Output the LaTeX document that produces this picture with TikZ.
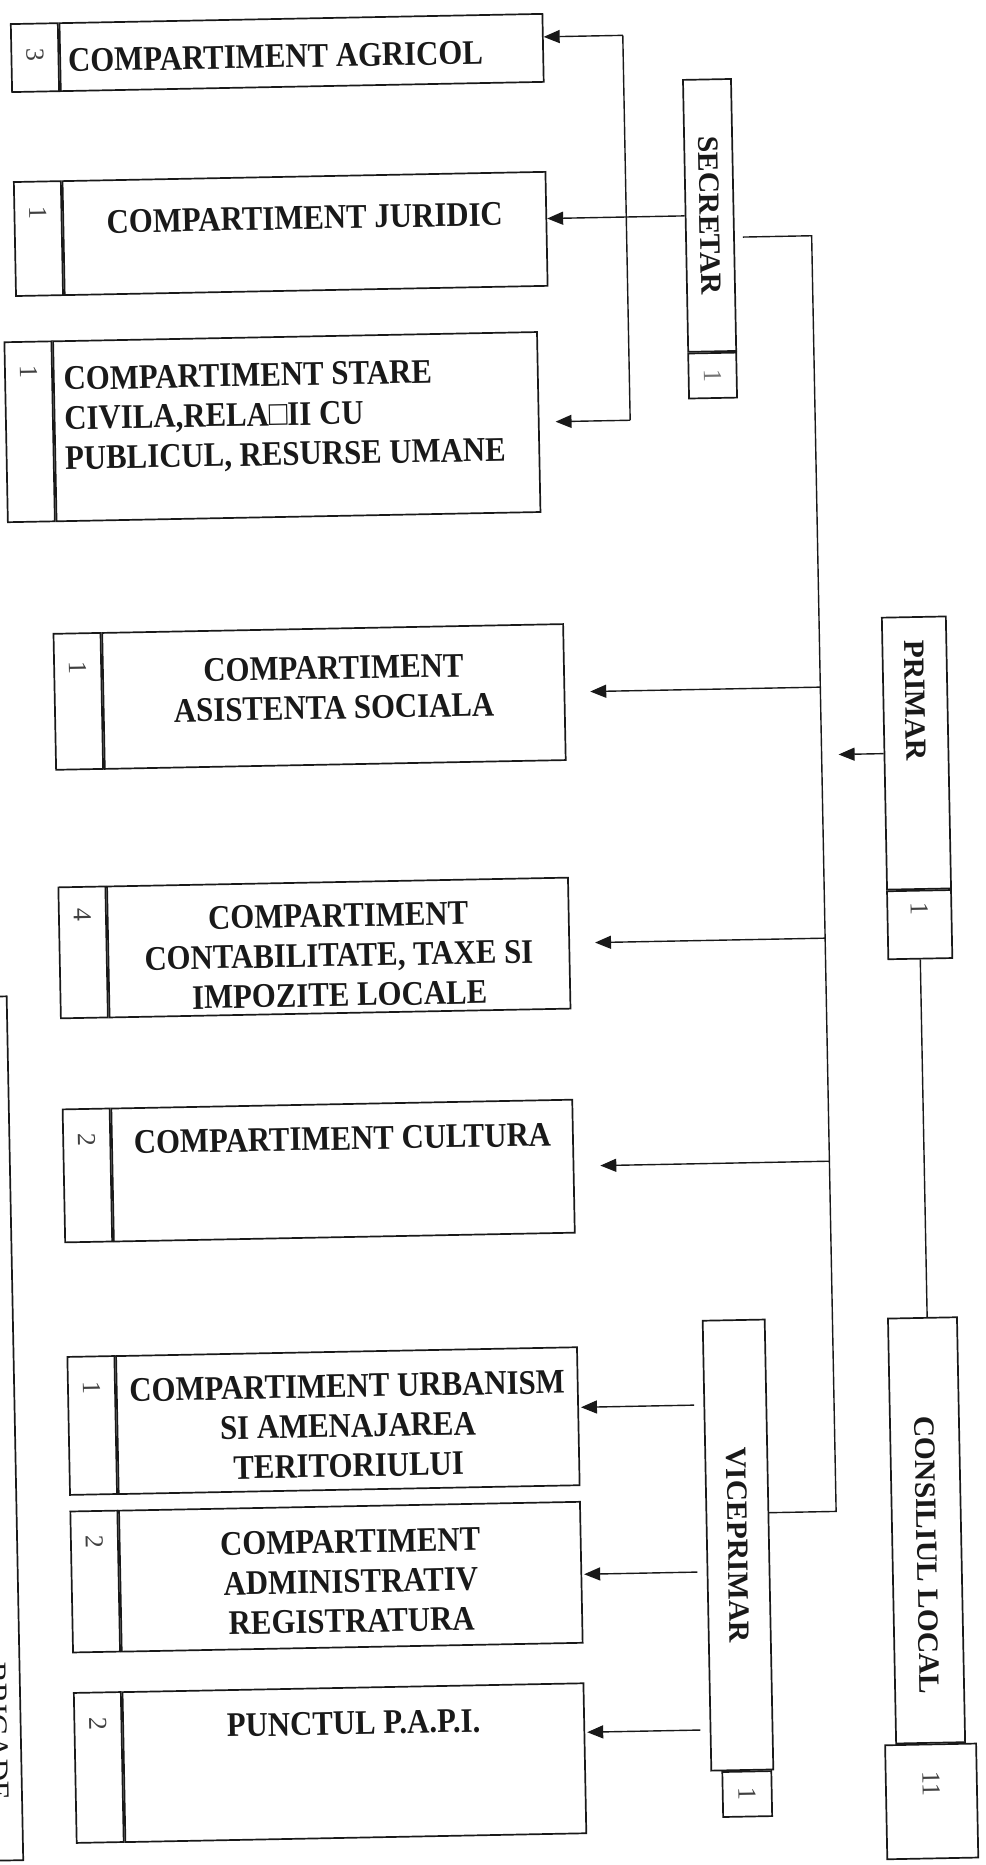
\documentclass[tikz,border=0pt]{standalone}
\usepackage{fontspec}
\setmainfont{Liberation Serif}
\usetikzlibrary{arrows.meta,positioning}

\begin{document}
\begin{tikzpicture}[x=1pt,y=-1pt,line width=1.4pt,
  box/.style={draw=black!90,line width=1.7pt,inner sep=0pt},
  nrcell/.style={box,minimum width=47pt},
  comptext/.style={font=\fontsize{30.8}{35.5}\selectfont\bfseries,align=center,inner sep=0pt,anchor=north,text=black!90,yscale=1.12},
  nr/.style={font=\fontsize{26}{26}\selectfont,rotate=-90,inner sep=0pt,text=black!75},
  vlabel/.style={font=\fontsize{29.5}{29.5}\selectfont\bfseries,rotate=-90,inner sep=0pt,text=black!90},
  arr/.style={draw=black!90,-{Triangle[length=16pt,width=13pt]}},
  link/.style={draw=black!90}]
\useasboundingbox (0,0) rectangle (985,1865);
\fill[white] (0,0) rectangle (985,1865);
\clip (0,0) rectangle (985,1865);
\begin{scope}[rotate around={1.1:(492,932)},transform shape]
% compartimente secretar
\node[box,minimum width=483pt,minimum height=68pt] (agricol) at (318.5,49) {};
\node[nrcell,minimum height=68pt,left=0pt of agricol] (agricol-nr) {};
\node[nr] (agricol-k) at ([yshift=-32pt]agricol-nr.north) {3};
\node[comptext,anchor=north west,align=left] (agricol-txt) at ([xshift=8pt,yshift=-26pt]agricol.north west) {COMPARTIMENT AGRICOL};
\node[box,minimum width=483pt,minimum height=114pt] (juridic) at (318.5,230) {};
\node[nrcell,minimum height=114pt,left=0pt of juridic] (juridic-nr) {};
\node[nr] (juridic-k) at ([yshift=-32pt]juridic-nr.north) {1};
\node[comptext] (juridic-txt) at ([yshift=-30pt]juridic.north) {COMPARTIMENT JURIDIC};
\node[box,minimum width=484pt,minimum height=180pt] (starecivila) at (306.5,423) {};
\node[nrcell,minimum height=180pt,left=0pt of starecivila] (starecivila-nr) {};
\node[nr] (starecivila-k) at ([yshift=-31pt]starecivila-nr.north) {1};
\node[comptext,anchor=north west,align=left] (starecivila-txt) at ([xshift=10pt,yshift=-26pt]starecivila.north west) {COMPARTIMENT STARE\\CIVILA,RELA□II CU\\PUBLICUL, RESURSE UMANE};
% compartimente primar
\node[box,minimum width=461pt,minimum height=136pt] (asistenta) at (338.5,693.5) {};
\node[nrcell,minimum height=136pt,left=0pt of asistenta] (asistenta-nr) {};
\node[nr] (asistenta-k) at ([yshift=-35pt]asistenta-nr.north) {1};
\node[comptext] (asistenta-txt) at ([yshift=-28pt]asistenta.north) {COMPARTIMENT\\ASISTENTA SOCIALA};
\node[box,minimum width=461pt,minimum height=131pt] (contabilitate) at (338.5,944.6) {};
\node[nrcell,minimum height=131pt,left=0pt of contabilitate] (contabilitate-nr) {};
\node[nr] (contabilitate-k) at ([yshift=-29pt]contabilitate-nr.north) {4};
\node[comptext] (contabilitate-txt) at ([yshift=-22pt]contabilitate.north) {COMPARTIMENT\\CONTABILITATE, TAXE SI\\IMPOZITE LOCALE};
\node[box,minimum width=461pt,minimum height=133pt] (cultura) at (338.5,1167.7) {};
\node[nrcell,minimum height=133pt,left=0pt of cultura] (cultura-nr) {};
\node[nr] (cultura-k) at ([yshift=-32pt]cultura-nr.north) {2};
\node[comptext] (cultura-txt) at ([yshift=-23pt]cultura.north) {COMPARTIMENT CULTURA};
% compartimente viceprimar
\node[box,minimum width=461pt,minimum height=138pt] (urbanism) at (338.5,1417.8) {};
\node[nrcell,minimum height=138pt,left=0pt of urbanism] (urbanism-nr) {};
\node[nr] (urbanism-k) at ([yshift=-32pt]urbanism-nr.north) {1};
\node[comptext] (urbanism-txt) at ([yshift=-23pt]urbanism.north) {COMPARTIMENT URBANISM\\SI AMENAJAREA\\TERITORIULUI};
\node[box,minimum width=461pt,minimum height=141pt] (administrativ) at (338.5,1573.9) {};
\node[nrcell,minimum height=141pt,left=0pt of administrativ] (administrativ-nr) {};
\node[nr] (administrativ-k) at ([yshift=-32pt]administrativ-nr.north) {2};
\node[comptext] (administrativ-txt) at ([yshift=-24pt]administrativ.north) {COMPARTIMENT\\ADMINISTRATIV\\REGISTRATURA};
\node[box,minimum width=461pt,minimum height=150pt] (papi) at (338.5,1759.9) {};
\node[nrcell,minimum height=150pt,left=0pt of papi] (papi-nr) {};
\node[nr] (papi-k) at ([yshift=-32pt]papi-nr.north) {2};
\node[comptext] (papi-txt) at ([yshift=-24pt]papi.north) {PUNCTUL P.A.P.I.};
% conducere
\node[box,minimum width=48pt,minimum height=272pt] (secretar) at (723.3,219.7) {};
\node[vlabel] (secretar-txt) at (secretar.center) {SECRETAR};
\node[box,minimum width=48pt,minimum height=45pt,below=0pt of secretar] (secretar-nr) {};
\node[nr,text=black!55] (secretar-k) at (secretar-nr.center) {1};
\node[box,minimum width=64pt,minimum height=272pt] (primar) at (919.8,761.2) {};
\node[vlabel,anchor=west] (primar-txt) at ([yshift=-23pt]primar.north) {PRIMAR};
\node[box,minimum width=64pt,minimum height=68pt,below=0pt of primar] (primar-nr) {};
\node[nr] (primar-k) at ([yshift=-19pt]primar-nr.north) {1};
\node[box,minimum width=62pt,minimum height=450pt] (viceprimar) at (726.2,1549.7) {};
\node[vlabel] (viceprimar-txt) at (viceprimar.center) {VICEPRIMAR};
\node[box,minimum width=49pt,minimum height=45pt,anchor=north east] (viceprimar-nr) at ([xshift=-2pt]viceprimar.south east) {};
\node[nr] (viceprimar-k) at (viceprimar-nr.center) {1};
\node[box,minimum width=69pt,minimum height=425pt] (consiliu) at (915,1538.6) {};
\node[vlabel] (consiliu-txt) at ([yshift=-25pt]consiliu.center) {CONSILIUL LOCAL};
\node[box,minimum width=91pt,minimum height=114pt,below=0pt of consiliu] (consiliu-nr) {};
\node[nr] (consiliu-k) at ([yshift=-40pt]consiliu-nr.north) {11};
\node[box,minimum width=105pt,minimum height=864pt] (brigada) at (-47,1419) {};
\node[vlabel,font=\fontsize{31}{31}\selectfont] (brigada-txt) at (-18,1722) {BRIGADE};
% legaturi
\coordinate (sbus-top) at (640,38);
\coordinate (sbus-bot) at (640,423);
\coordinate (bus-top) at (825,242);
\coordinate (bus-bot) at (825,1518);
\coordinate (vrow1) at (685,1409);
\coordinate (vrow2) at (685,1576);
\coordinate (vrow3) at (685,1734);
\draw[link] (sbus-top) -- (sbus-bot);
\draw[arr] (sbus-top) -- (sbus-top -| agricol.east);
\draw[link] (secretar.west) -- (secretar.west -| sbus-top);
\draw[arr] (secretar.west -| sbus-top) -- (secretar.west -| juridic.east);
\draw[arr,shorten >=16pt] (sbus-bot) -- (sbus-bot -| starecivila.east);
\draw[link,shorten <=8pt] (secretar.east |- bus-top) -- (bus-top) -- (bus-bot) -- (viceprimar.east |- bus-bot);
\draw[arr,shorten >=25pt] (bus-top |- asistenta) -- (asistenta.east);
\draw[arr,shorten >=25pt] (bus-top |- contabilitate) -- (contabilitate.east);
\draw[arr,shorten >=26pt] (bus-top |- cultura) -- (cultura.east);
\draw[arr,shorten >=17pt] (primar.west) -- (primar.west -| bus-top);
\draw[link] (primar-nr.south) -- (primar-nr.south |- consiliu.north);
\draw[arr,shorten >=2pt] (vrow1) -- (vrow1 -| urbanism.east);
\draw[arr,shorten >=2pt] (vrow2) -- (vrow2 -| administrativ.east);
\draw[arr,shorten >=2pt] (vrow3) -- (vrow3 -| papi.east);
\end{scope}
\end{tikzpicture}
\end{document}
